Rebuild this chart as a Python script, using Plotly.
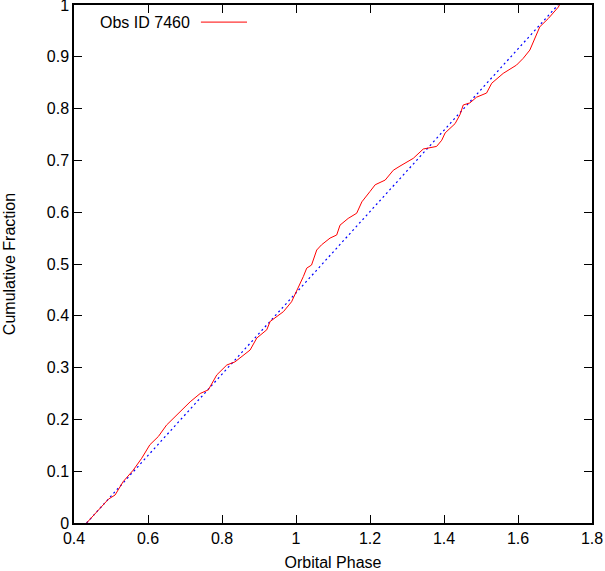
import plotly.graph_objects as go

# cumulative fraction of events vs orbital phase
phase = [
    0.434, 0.493, 0.511, 0.533, 0.560, 0.583, 0.605, 0.628, 0.650, 0.686,
    0.714, 0.741, 0.763, 0.786, 0.813, 0.835, 0.858, 0.876, 0.894, 0.921,
    0.930, 0.966, 0.988, 1.006, 1.020, 1.029, 1.042, 1.056, 1.069, 1.092,
    1.110, 1.119, 1.141, 1.164, 1.178, 1.200, 1.214, 1.241, 1.263, 1.281,
    1.317, 1.344, 1.380, 1.394, 1.403, 1.430, 1.443, 1.452, 1.470, 1.488,
    1.515, 1.529, 1.560, 1.596, 1.614, 1.632, 1.646, 1.659, 1.682, 1.695,
    1.709, 1.712,
]
cum_frac = [
    0.000, 0.046, 0.054, 0.080, 0.102, 0.125, 0.151, 0.167, 0.189, 0.215,
    0.234, 0.250, 0.257, 0.286, 0.305, 0.311, 0.324, 0.334, 0.357, 0.373,
    0.389, 0.408, 0.427, 0.453, 0.476, 0.492, 0.498, 0.527, 0.537, 0.550,
    0.556, 0.575, 0.588, 0.598, 0.620, 0.640, 0.653, 0.662, 0.681, 0.689,
    0.704, 0.722, 0.727, 0.739, 0.753, 0.771, 0.788, 0.807, 0.811, 0.822,
    0.830, 0.849, 0.868, 0.884, 0.897, 0.913, 0.936, 0.958, 0.974, 0.984,
    0.996, 1.000,
]

# uniform distribution reference line
uniform_phase = [0.434, 1.708]
uniform_frac = [0.0, 1.0]

legend_label = "Obs ID 7460"
x_ticks = [0.4, 0.6, 0.8, 1.0, 1.2, 1.4, 1.6, 1.8]
x_ticktext = ["0.4", "0.6", "0.8", "1", "1.2", "1.4", "1.6", "1.8"]
y_ticks = [0, 0.1, 0.2, 0.3, 0.4, 0.5, 0.6, 0.7, 0.8, 0.9, 1.0]
y_ticktext = ["0", "0.1", "0.2", "0.3", "0.4", "0.5", "0.6", "0.7", "0.8", "0.9", "1"]

font = dict(family="Liberation Sans, Arial, sans-serif", size=16, color="black")

fig = go.Figure()
fig.add_trace(
    go.Scatter(
        x=uniform_phase,
        y=uniform_frac,
        mode="lines",
        line=dict(color="#0000ff", width=1.2, dash="2px,3px"),
        showlegend=False,
    )
)
fig.add_trace(
    go.Scatter(
        x=phase,
        y=cum_frac,
        mode="lines",
        line=dict(color="#ff0000", width=1),
        name=legend_label,
        showlegend=False,
    )
)

# gnuplot-style key: label first, sample line after it
fig.add_annotation(
    x=0.047, y=0.967, xref="paper", yref="paper",
    text=legend_label, showarrow=False, xanchor="left", yanchor="middle",
    font=font,
)
fig.add_shape(
    type="line", xref="paper", yref="paper",
    x0=0.245, x1=0.334, y0=0.967, y1=0.967,
    line=dict(color="#ff0000", width=1),
)

axis_common = dict(
    showline=True,
    linecolor="black",
    linewidth=1.5,
    mirror="ticks",
    ticks="inside",
    ticklen=8,
    tickwidth=1.2,
    tickcolor="black",
    showgrid=False,
    zeroline=False,
    tickfont=font,
    ticklabeloverflow="allow",
    automargin=False,
)

fig.update_layout(
    width=605,
    height=571,
    margin=dict(l=74, r=13, t=5, b=48),
    paper_bgcolor="white",
    plot_bgcolor="white",
    font=font,
    xaxis=dict(
        range=[0.4, 1.8],
        tickvals=x_ticks,
        ticktext=x_ticktext,
        title=dict(text="Orbital Phase", font=font, standoff=14),
        **axis_common,
    ),
    yaxis=dict(
        range=[0, 1],
        tickvals=y_ticks,
        ticktext=y_ticktext,
        title=dict(text="Cumulative Fraction", font=font, standoff=27),
        **axis_common,
    ),
)

# page body has a default 8px margin; drop it so the figure sits at the window corner
fig.write_html(
    "out.html",
    config={"displayModeBar": False},
    post_script="document.body.style.margin='0';document.body.style.overflow='hidden';",
)
